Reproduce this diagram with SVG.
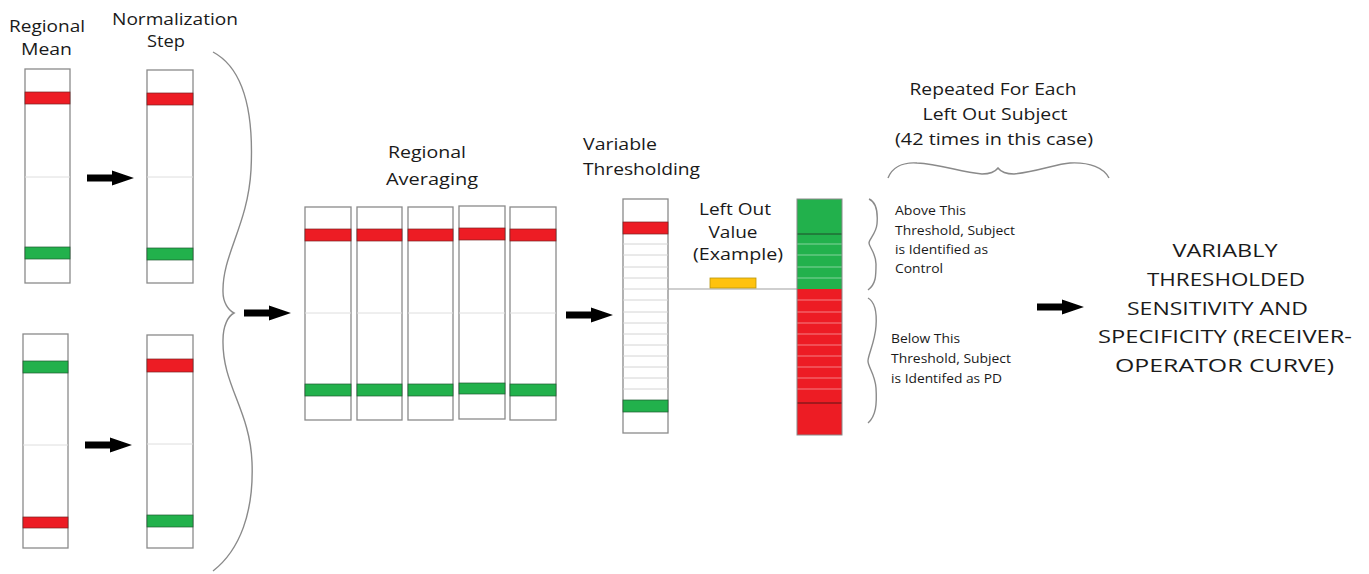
<svg xmlns="http://www.w3.org/2000/svg" xmlns:xlink="http://www.w3.org/1999/xlink" width="1369" height="574" viewBox="0 0 1369 574">
<style>
.bg{fill:#fff}
.col{fill:#fff;stroke:#8a8a8a;stroke-width:1.3}
.red{fill:#ED1C24;stroke:#7a2020;stroke-width:0.7}
.green{fill:#22B14C;stroke:#1e5a30;stroke-width:0.7}
.mid{stroke:#dedede;stroke-width:1}
.tl{stroke:#d4d4d4;stroke-width:1}
.wl{stroke:#ffffff;stroke-opacity:0.45;stroke-width:1}
.brace{fill:none;stroke:#8a8a8a;stroke-width:1.4}
.arrow{fill:#000}
text{font-family:"Open Sans","Noto Sans","DejaVu Sans",sans-serif;fill:#1a1a1a}
.h{font-size:16px}
.s{font-size:12.5px}
.b{font-size:18px}
</style>
<defs>
<path id="arr" class="arrow" d="M0,-3.5 H25 V-7.5 L47,0 L25,7.5 V3.5 H0 Z"/>
</defs>
<rect class="bg" x="0" y="0" width="1369" height="574"/>

<g id="label-regional-mean">
<text class="h" x="47" y="32" text-anchor="middle" textLength="76" lengthAdjust="spacingAndGlyphs">Regional</text>
<text class="h" x="46.5" y="55" text-anchor="middle" textLength="51" lengthAdjust="spacingAndGlyphs">Mean</text>
</g>
<g id="label-normalization">
<text class="h" x="175" y="25" text-anchor="middle" textLength="126" lengthAdjust="spacingAndGlyphs">Normalization</text>
<text class="h" x="166" y="47" text-anchor="middle" textLength="38" lengthAdjust="spacingAndGlyphs">Step</text>
</g>

<g id="col-mean-top">
<rect class="col" x="25" y="69" width="45" height="214"/>
<line class="mid" x1="25" y1="177" x2="70" y2="177"/>
<rect class="red" x="25" y="92" width="45" height="12"/>
<rect class="green" x="25" y="247" width="45" height="12"/>
</g>
<g id="col-norm-top">
<rect class="col" x="147" y="70" width="46" height="213"/>
<line class="mid" x1="147" y1="177" x2="193" y2="177"/>
<rect class="red" x="147" y="93" width="46" height="12"/>
<rect class="green" x="147" y="248" width="46" height="12"/>
</g>
<g id="col-mean-bottom">
<rect class="col" x="23" y="334" width="45" height="214"/>
<line class="mid" x1="23" y1="445" x2="68" y2="445"/>
<rect class="green" x="23" y="361" width="45" height="12"/>
<rect class="red" x="23" y="517" width="45" height="11"/>
</g>
<g id="col-norm-bottom">
<rect class="col" x="147" y="335" width="46" height="213"/>
<line class="mid" x1="147" y1="444" x2="193" y2="444"/>
<rect class="red" x="147" y="359" width="46" height="13"/>
<rect class="green" x="147" y="515" width="46" height="12"/>
</g>

<g id="brace-left">
<path class="brace" d="M213,52 C243,68 254,110 251,170 C248,225 222,255 223,292 C223,302 228,310 234,313 C228,316 223,326 223,340 C222,385 250,410 252,462 C254,512 240,550 213,571"/>
</g>

<g id="label-regional-averaging">
<text class="h" x="427" y="158" text-anchor="middle" textLength="78" lengthAdjust="spacingAndGlyphs">Regional</text>
<text class="h" x="432" y="185" text-anchor="middle" textLength="92" lengthAdjust="spacingAndGlyphs">Averaging</text>
</g>
<g id="col-avg-1">
<rect class="col" x="305" y="207" width="46" height="213"/>
<line class="mid" x1="305" y1="313" x2="351" y2="313"/>
<rect class="red" x="305" y="229" width="46" height="12"/>
<rect class="green" x="305" y="384" width="46" height="12"/>
</g>
<g id="col-avg-2">
<rect class="col" x="357" y="207" width="45" height="213"/>
<line class="mid" x1="357" y1="313" x2="402" y2="313"/>
<rect class="red" x="357" y="229" width="45" height="12"/>
<rect class="green" x="357" y="384" width="45" height="12"/>
</g>
<g id="col-avg-3">
<rect class="col" x="408" y="207" width="45" height="213"/>
<line class="mid" x1="408" y1="313" x2="453" y2="313"/>
<rect class="red" x="408" y="229" width="45" height="12"/>
<rect class="green" x="408" y="384" width="45" height="12"/>
</g>
<g id="col-avg-4">
<rect class="col" x="459" y="206" width="46" height="213"/>
<line class="mid" x1="459" y1="313" x2="505" y2="313"/>
<rect class="red" x="459" y="228" width="46" height="12"/>
<rect class="green" x="459" y="383" width="46" height="11"/>
</g>
<g id="col-avg-5">
<rect class="col" x="510" y="207" width="46" height="213"/>
<line class="mid" x1="510" y1="313" x2="556" y2="313"/>
<rect class="red" x="510" y="229" width="46" height="12"/>
<rect class="green" x="510" y="384" width="46" height="12"/>
</g>

<g id="label-variable-thresholding">
<text class="h" x="583" y="150" textLength="74" lengthAdjust="spacingAndGlyphs">Variable</text>
<text class="h" x="583" y="175" textLength="117" lengthAdjust="spacingAndGlyphs">Thresholding</text>
</g>
<g id="col-threshold">
<rect class="col" x="623" y="199" width="45" height="234"/>
<g class="tl">
<line x1="623" y1="244" x2="668" y2="244"/><line x1="623" y1="255" x2="668" y2="255"/>
<line x1="623" y1="267" x2="668" y2="267"/><line x1="623" y1="278" x2="668" y2="278"/>
<line x1="623" y1="289" x2="668" y2="289"/><line x1="623" y1="300" x2="668" y2="300"/>
<line x1="623" y1="312" x2="668" y2="312"/><line x1="623" y1="323" x2="668" y2="323"/>
<line x1="623" y1="334" x2="668" y2="334"/><line x1="623" y1="345" x2="668" y2="345"/>
<line x1="623" y1="356" x2="668" y2="356"/><line x1="623" y1="367" x2="668" y2="367"/>
<line x1="623" y1="378" x2="668" y2="378"/><line x1="623" y1="389" x2="668" y2="389"/>
</g>
<rect class="red" x="623" y="222" width="45" height="12"/>
<rect class="green" x="623" y="400" width="45" height="12"/>
</g>

<g id="left-out-value">
<text class="h" x="735" y="215" text-anchor="middle" textLength="72" lengthAdjust="spacingAndGlyphs">Left Out</text>
<text class="h" x="733" y="238" text-anchor="middle" textLength="49" lengthAdjust="spacingAndGlyphs">Value</text>
<text class="h" x="738" y="260" text-anchor="middle" textLength="90" lengthAdjust="spacingAndGlyphs">(Example)</text>
<line x1="668" y1="289" x2="797" y2="289" stroke="#a0a0a0" stroke-width="1.2"/>
<rect x="710" y="278" width="46" height="10" fill="#FFC20E" stroke="#b8960c" stroke-width="0.8"/>
</g>

<g id="col-classified">
<rect x="797" y="199" width="45" height="90" fill="#22B14C"/>
<rect x="797" y="289" width="45" height="146" fill="#ED1C24"/>
<g class="wl">
<line x1="797" y1="244" x2="842" y2="244"/><line x1="797" y1="255" x2="842" y2="255"/>
<line x1="797" y1="267" x2="842" y2="267"/><line x1="797" y1="278" x2="842" y2="278"/>
<line x1="797" y1="300" x2="842" y2="300"/><line x1="797" y1="312" x2="842" y2="312"/>
<line x1="797" y1="323" x2="842" y2="323"/><line x1="797" y1="334" x2="842" y2="334"/>
<line x1="797" y1="345" x2="842" y2="345"/><line x1="797" y1="356" x2="842" y2="356"/>
<line x1="797" y1="367" x2="842" y2="367"/><line x1="797" y1="378" x2="842" y2="378"/>
<line x1="797" y1="389" x2="842" y2="389"/>
</g>
<line x1="797" y1="234" x2="842" y2="234" stroke="#1e4a2a" stroke-width="1"/>
<line x1="797" y1="403" x2="842" y2="403" stroke="#5a1515" stroke-width="1"/>
<rect x="797" y="199" width="45" height="236" fill="none" stroke="#8a8a8a" stroke-width="1"/>
</g>

<g id="repeated-label">
<text class="h" x="993" y="95" text-anchor="middle" textLength="167" lengthAdjust="spacingAndGlyphs">Repeated For Each</text>
<text class="h" x="995" y="120" text-anchor="middle" textLength="145" lengthAdjust="spacingAndGlyphs">Left Out Subject</text>
<text class="h" x="994" y="145" text-anchor="middle" textLength="198" lengthAdjust="spacingAndGlyphs">(42 times in this case)</text>
<path class="brace" d="M888,178 C892,168 902,162 917,163 C940,164 960,172 982,174 C990,174 995,172 998,168 C1001,172 1006,174 1014,174 C1036,172 1056,164 1070,163 C1090,162 1104,168 1109,178"/>
</g>

<g id="above-threshold">
<path class="brace" d="M869,199 C876,202 878,212 877,224 C876,234 869,239 869,243 C869,247 876,253 876,264 C876,276 876,284 868,290"/>
<text class="s" x="895" y="215" textLength="71" lengthAdjust="spacingAndGlyphs">Above This</text>
<text class="s" x="895" y="235" textLength="120" lengthAdjust="spacingAndGlyphs">Threshold, Subject</text>
<text class="s" x="895" y="254" textLength="93" lengthAdjust="spacingAndGlyphs">is Identified as</text>
<text class="s" x="895" y="273" textLength="48" lengthAdjust="spacingAndGlyphs">Control</text>
</g>
<g id="below-threshold">
<path class="brace" d="M868,298 C875,302 877,312 876,326 C875,342 868,355 868,361 C868,367 875,374 876,388 C877,404 876,416 868,423"/>
<text class="s" x="891" y="343" textLength="69" lengthAdjust="spacingAndGlyphs">Below This</text>
<text class="s" x="891" y="363" textLength="120" lengthAdjust="spacingAndGlyphs">Threshold, Subject</text>
<text class="s" x="891" y="383" textLength="111" lengthAdjust="spacingAndGlyphs">is Identifed as PD</text>
</g>

<g id="result">
<text class="b" x="1225" y="257" text-anchor="middle" textLength="105" lengthAdjust="spacingAndGlyphs">VARIABLY</text>
<text class="b" x="1226" y="286" text-anchor="middle" textLength="158" lengthAdjust="spacingAndGlyphs">THRESHOLDED</text>
<text class="b" x="1217.5" y="314.5" text-anchor="middle" textLength="181" lengthAdjust="spacingAndGlyphs">SENSITIVITY AND</text>
<text class="b" x="1225" y="343" text-anchor="middle" textLength="254" lengthAdjust="spacingAndGlyphs">SPECIFICITY (RECEIVER-</text>
<text class="b" x="1224.5" y="372" text-anchor="middle" textLength="219" lengthAdjust="spacingAndGlyphs">OPERATOR CURVE)</text>
</g>

<g id="connectors">
<use xlink:href="#arr" href="#arr" x="87" y="178"/>
<use xlink:href="#arr" href="#arr" x="85" y="445"/>
<use xlink:href="#arr" href="#arr" x="244" y="313"/>
<use xlink:href="#arr" href="#arr" x="566" y="315"/>
<use xlink:href="#arr" href="#arr" x="1037" y="307"/>
</g>
</svg>
